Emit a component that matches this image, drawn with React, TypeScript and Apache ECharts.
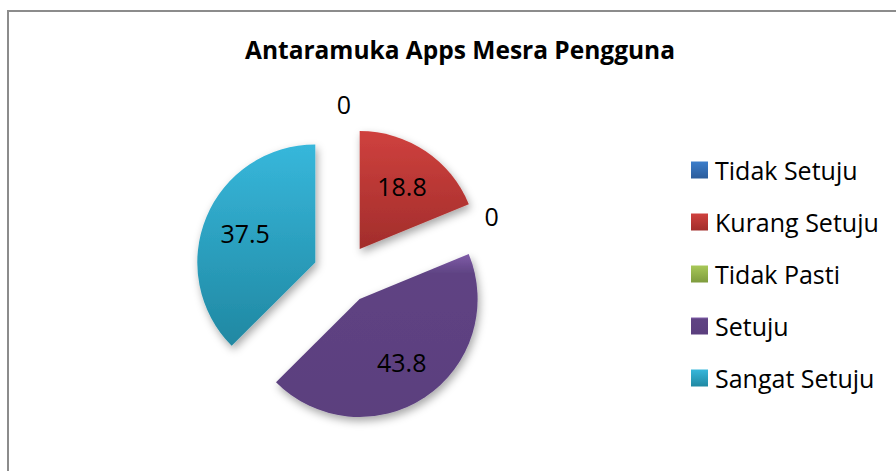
import React, { useEffect, useRef } from "react";
import * as echarts from "echarts";

const titleText = "Antaramuka Apps Mesra Pengguna";
const categories = ["Tidak Setuju", "Kurang Setuju", "Tidak Pasti", "Setuju", "Sangat Setuju"];
const values = [0, 18.8, 0, 43.8, 37.5];

const colorTop = ["#3c7ecb", "#cf413e", "#a8c858", "#7f5ca8", "#37b7db"];
const colorMid = ["#3468b0", "#b83836", "#92b048", "#5f4383", "#2ca2c2"];
const colorBottom = ["#2b5c9b", "#a22d2b", "#7e9b3d", "#5b3f7e", "#2088a2"];

const FONT = "'Open Sans', 'Noto Sans', sans-serif";

function fillFor(i: number) {
  if (i === 3) {
    return new echarts.graphic.LinearGradient(0, 0, 0, 1, [
      { offset: 0, color: colorTop[i] },
      { offset: 0.12, color: colorMid[i] },
      { offset: 1, color: colorBottom[i] },
    ]);
  }
  return new echarts.graphic.LinearGradient(0, 0, 0, 1, [
    { offset: 0, color: colorTop[i] },
    { offset: 1, color: colorBottom[i] },
  ]);
}

export default function App() {
  const ref = useRef<HTMLDivElement>(null);

  useEffect(() => {
    if (!ref.current) return;
    const chart = echarts.init(ref.current, null, { renderer: "svg" });

    const zeroLabel = (i: number) =>
      i === 0
        ? { length: 22, length2: 0, dist: -8 }
        : { length: 5, length2: 0, dist: 0 };

    const mainData = categories.map((name, i) => {
      const z = values[i] === 0;
      const zl = zeroLabel(i);
      return {
        name,
        value: values[i],
        selected: true,
        itemStyle: { color: fillFor(i) },
        label: z
          ? {
              show: true,
              position: "outside",
              formatter: "{c}",
              distanceToLabelLine: zl.dist,
              color: "#000",
              fontSize: 25,
              fontFamily: FONT,
            }
          : { show: false },
        labelLine: { show: false, length: zl.length, length2: zl.length2 },
      };
    });

    const labelData = categories.map((name, i) => ({
      name,
      value: values[i],
      selected: true,
      label: { show: values[i] !== 0 },
    }));

    chart.setOption({
      animation: false,
      backgroundColor: "#ffffff",
      title: {
        text: titleText,
        left: 460,
        textAlign: "center",
        top: 37,
        padding: 0,
        textStyle: {
          fontFamily: FONT,
          fontWeight: "bold",
          fontSize: 24.5,
          lineHeight: 24,
          color: "#000",
        },
      },
      legend: {
        orient: "vertical",
        left: 691,
        top: 157.5,
        padding: 0,
        itemWidth: 17,
        itemHeight: 17,
        itemGap: 27,
        icon: "rect",
        selectedMode: false,
        data: categories,
        textStyle: {
          fontFamily: FONT,
          fontSize: 25,
          lineHeight: 24,
          color: "#000",
          padding: [0, 0, 0, 2],
        },
      },
      graphic: [
        {
          type: "rect",
          silent: true,
          shape: { x: 8, y: 11, width: 1200, height: 1200 },
          style: { fill: "none", stroke: "#8c8c8c", lineWidth: 2 },
        },
      ],
      series: [
        {
          type: "pie",
          center: [343, 274],
          radius: [0, 118],
          startAngle: 90,
          clockwise: true,
          selectedMode: "multiple",
          selectedOffset: 30,
          avoidLabelOverlap: false,
          labelLayout: { hideOverlap: false },
          emphasis: { disabled: true },
          select: { itemStyle: { borderWidth: 0 } },
          itemStyle: {
            borderWidth: 0,
            shadowBlur: 8,
            shadowOffsetX: 2,
            shadowOffsetY: 4,
            shadowColor: "rgba(0,0,0,0.35)",
          },
          data: mainData,
        },
        {
          type: "pie",
          center: [343, 274],
          radius: [0, 146],
          startAngle: 90,
          clockwise: true,
          silent: true,
          selectedMode: "multiple",
          selectedOffset: 30,
          avoidLabelOverlap: false,
          labelLayout: { hideOverlap: false },
          emphasis: { disabled: true },
          select: { itemStyle: { borderWidth: 0, color: "rgba(0,0,0,0)" } },
          itemStyle: { color: "rgba(0,0,0,0)", borderWidth: 0 },
          label: {
            position: "inside",
            formatter: "{c}",
            color: "#000",
            fontSize: 25,
            fontFamily: FONT,
          },
          labelLine: { show: false },
          data: labelData,
        },
      ],
    });

    return () => chart.dispose();
  }, []);

  return (
    <div
      ref={ref}
      style={{ position: "absolute", left: 0, top: 0, width: 896, height: 471 }}
    />
  );
}
